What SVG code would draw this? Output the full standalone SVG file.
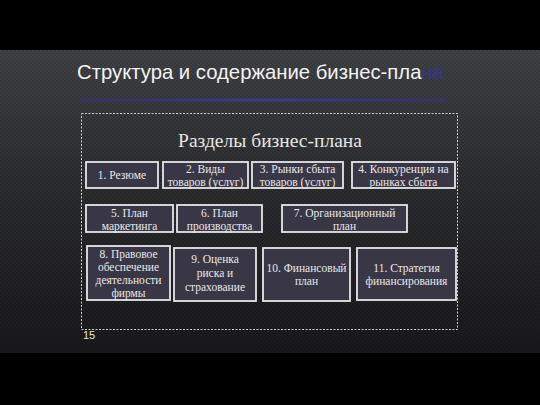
<svg xmlns="http://www.w3.org/2000/svg" width="540" height="405" viewBox="0 0 540 405">
<defs>
<linearGradient id="bg" x1="0" y1="0" x2="0" y2="1">
<stop offset="0" stop-color="#404246"/>
<stop offset="0.45" stop-color="#2c2d30"/>
<stop offset="1" stop-color="#19191b"/>
</linearGradient>
<linearGradient id="bl" x1="0" y1="0" x2="1" y2="0">
<stop offset="0" stop-color="#34347a" stop-opacity="0.6"/>
<stop offset="0.5" stop-color="#3a3a86"/>
<stop offset="1" stop-color="#34347a" stop-opacity="0.7"/>
</linearGradient>
<pattern id="tex" width="4" height="4" patternUnits="userSpaceOnUse">
<rect width="2" height="2" fill="#000" fill-opacity="0.12"/>
<rect x="2" y="2" width="2" height="2" fill="#000" fill-opacity="0.12"/>
</pattern>
</defs>
<style>
.box{fill:#393746;stroke:#e6e6e6;stroke-width:1.8}
.t{font-family:"Liberation Serif","Times New Roman",serif;font-size:11.5px;fill:#e8e8e8;text-anchor:middle}
</style>
<rect width="540" height="405" fill="#000"/>
<rect y="50" width="540" height="303" fill="url(#bg)"/>
<rect y="50" width="540" height="303" fill="url(#tex)"/>
<text x="77" y="79" font-family="'Liberation Sans',Arial,sans-serif" font-size="20.3" fill="#f2f2f2">Структура и содержание бизнес-пла<tspan fill="#35358a">на</tspan></text>
<rect x="80" y="98.5" width="365" height="3" fill="url(#bl)"/>
<rect x="81.5" y="113.5" width="376" height="216" fill="none" stroke="#cfcfcf" stroke-width="1" stroke-dasharray="2,1.5"/>
<text x="270" y="147" font-family="'Liberation Serif','Times New Roman',serif" font-size="19.5" fill="#e6e6e6" text-anchor="middle">Разделы бизнес-плана</text>
<text x="83" y="339" font-family="'Liberation Sans',Arial,sans-serif" font-size="11" fill="#e6e6e6">15</text>
<g id="n1"><rect class="box" x="86" y="162" width="72" height="26"/><text class="t" x="122" y="179">1. Резюме</text></g>
<g id="n2"><rect class="box" x="163" y="162" width="85" height="26"/><text class="t" x="205.5" y="173">2. Виды</text><text class="t" x="205.5" y="186">товаров (услуг)</text></g>
<g id="n3"><rect class="box" x="252" y="162" width="91" height="26"/><text class="t" x="297.5" y="173">3. Рынки сбыта</text><text class="t" x="297.5" y="186">товаров (услуг)</text></g>
<g id="n4"><rect class="box" x="352" y="162" width="103" height="26"/><text class="t" x="403.5" y="173">4. Конкуренция на</text><text class="t" x="403.5" y="186">рынках сбыта</text></g>
<g id="n5"><rect class="box" x="86" y="205" width="87" height="27"/><text class="t" x="129.5" y="217">5. План</text><text class="t" x="129.5" y="230">маркетинга</text></g>
<g id="n6"><rect class="box" x="177" y="205" width="85" height="27"/><text class="t" x="219.5" y="217">6. План</text><text class="t" x="219.5" y="230">производства</text></g>
<g id="n7"><rect class="box" x="282" y="205" width="125" height="27"/><text class="t" x="344.5" y="217">7. Организационный</text><text class="t" x="344.5" y="230">план</text></g>
<g id="n8"><rect class="box" x="87" y="246" width="83" height="54"/><text class="t" x="128.5" y="258">8. Правовое</text><text class="t" x="128.5" y="271">обеспечение</text><text class="t" x="128.5" y="284">деятельности</text><text class="t" x="128.5" y="297">фирмы</text></g>
<g id="n9"><rect class="box" x="174" y="248" width="82" height="53"/><text class="t" x="215" y="263">9. Оценка</text><text class="t" x="215" y="277">риска и</text><text class="t" x="215" y="291">страхование</text></g>
<g id="n10"><rect class="box" x="263" y="248" width="87" height="53"/><text class="t" x="306.5" y="272">10. Финансовый</text><text class="t" x="306.5" y="285">план</text></g>
<g id="n11"><rect class="box" x="357" y="248" width="99" height="52"/><text class="t" x="406.5" y="272">11. Стратегия</text><text class="t" x="406.5" y="285">финансирования</text></g>
<g id="connectors"></g>
</svg>
